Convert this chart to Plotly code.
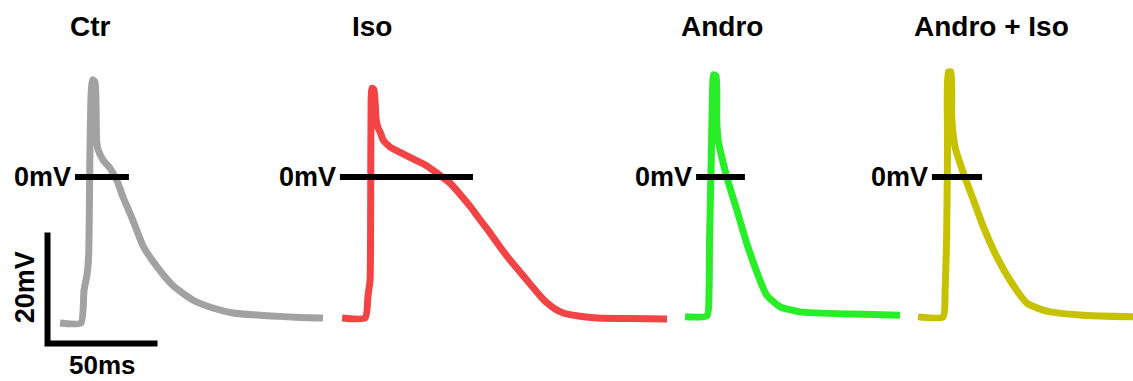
import plotly.graph_objects as go

# Action potential traces: time (ms, from sweep start) and membrane potential (mV)
conditions = ["Ctr", "Iso", "Andro", "Andro + Iso"]

ctr_t = [0, 9.5, 10.9, 12.3, 13.0, 13.6, 14.1, 14.8, 15.9, 16.6, 17.3, 19.5, 22.7, 25.9,
         28.6, 33.2, 37.7, 44.1, 51.4, 60.5, 69.5, 78.6, 94.1, 109.1, 119.5]
ctr_v = [-26.3, -26.3, -20.4, -17.5, -14.1, 4.9, 14.8, 17.5, 17.1, 6.7, 4.9, 3.1, 1.6, -0.7,
         -3.6, -7.9, -12.4, -16.2, -19.6, -22.2, -23.6, -24.5, -25.0, -25.3, -25.4]

iso_t = [0, 10.5, 11.8, 12.7, 13.0, 13.2, 13.6, 14.5, 15.5, 16.4, 17.3, 18.6, 21.8, 25.0,
         29.5, 34.1, 37.7, 41.4, 45.5, 49.1, 53.6, 58.2, 62.7, 67.3, 71.8, 76.4, 80.9, 85.5,
         90.0, 93.2, 96.8, 100.5, 108.2, 115.9, 130.9, 147.7]
iso_v = [-25.4, -25.4, -21.3, -18.6, -4.1, 13.9, 16.0, 15.7, 10.3, 8.8, 8.1, 6.7, 5.4, 4.7,
         3.8, 2.9, 2.2, 1.2, 0.0, -1.1, -3.1, -5.3, -7.7, -10.1, -12.6, -15.0, -17.1, -19.3,
         -21.4, -22.7, -23.8, -24.5, -25.1, -25.4, -25.5, -25.6]

andro_t = [0, 10.0, 10.9, 11.1, 11.8, 12.5, 13.0, 14.1, 14.4, 15.0, 15.9, 19.1, 23.5, 28.0,
           32.6, 37.1, 43.2, 52.3, 76.4, 97.7]
andro_v = [-25.2, -25.0, -20.4, -11.9, 1.3, 15.7, 18.4, 18.2, 10.3, 6.7, 4.9, -0.2, -5.9, -11.9,
           -17.1, -21.3, -23.4, -24.3, -24.7, -24.9]

andro_iso_t = [0, 11.4, 12.3, 13.0, 13.4, 13.8, 15.0, 15.3, 16.8, 20.6, 25.1, 29.7, 35.8,
               41.8, 49.4, 55.5, 60.0, 75.0, 97.7]
andro_iso_v = [-25.2, -25.2, -20.4, -10.8, 4.9, 18.9, 18.9, 10.8, 5.4, 0.7, -4.1, -9.0, -14.4,
               -18.6, -22.7, -23.8, -24.3, -24.9, -25.2]

# Scale bar sizes
scale_mv = 20
scale_ms = 50

# ---- layout (positions on the shared time axis, ms) ----
px_per_ms = 110 / scale_ms
px_per_mv = 111 / scale_mv
W, H = 1133, 381
zero_px = 177  # pixel row of 0 mV

sweep_start = [27.3, 155.5, 311.4, 417.3]
zero_line = [(34.1, 58.6), (154.5, 215.0), (316.4, 338.6), (423.6, 446.4)]
title_x = [41.1, 169.1, 328.2, 450.7]
colors = ["#a2a2a2", "#f24444", "#27ee27", "#c6c200"]

traces = [(ctr_t, ctr_v), (iso_t, iso_v), (andro_t, andro_v), (andro_iso_t, andro_iso_v)]

fig = go.Figure()
for (t, v), x0, c in zip(traces, sweep_start, colors):
    fig.add_trace(go.Scatter(
        x=[ti + x0 for ti in t], y=v, mode="lines",
        line=dict(color=c, width=7, shape="spline", smoothing=0.5),
        hoverinfo="skip", showlegend=False,
    ))

label_font = dict(family="Liberation Sans, Arial, sans-serif", size=27, color="black")

for (a, b) in zero_line:
    fig.add_shape(type="line", xref="x", yref="y", x0=a, x1=b, y0=0, y1=0,
                  line=dict(color="black", width=6))
    fig.add_annotation(x=a, y=0, xref="x", yref="y", text="<b>0mV</b>", showarrow=False,
                       xanchor="right", yanchor="middle", xshift=-2, font=label_font)

for name, x in zip(conditions, title_x):
    fig.add_annotation(x=x, y=1 - 26 / H, xref="x", yref="paper", text=f"<b>{name}</b>",
                       showarrow=False, xanchor="center", yanchor="middle",
                       font=dict(family="Liberation Sans, Arial, sans-serif", size=28,
                                 color="black"))

# L-shaped scale bar
corner_t, corner_v = 21.6, -30
fig.add_trace(go.Scatter(
    x=[corner_t, corner_t, corner_t + scale_ms],
    y=[corner_v + scale_mv, corner_v, corner_v],
    mode="lines", line=dict(color="black", width=6), hoverinfo="skip", showlegend=False,
))
fig.add_annotation(x=corner_t - 1, y=corner_v + scale_mv / 2 + 0.2, xref="x", yref="y",
                   text=f"<b>{scale_mv}mV</b>", textangle=-90, showarrow=False,
                   xanchor="right", yanchor="middle", xshift=-3, font=label_font)
fig.add_annotation(x=corner_t + scale_ms / 2, y=-(365 - zero_px) / px_per_mv,
                   xref="x", yref="y", text=f"<b>{scale_ms}ms</b>", showarrow=False,
                   xanchor="center", yanchor="middle",
                   font=dict(family="Liberation Sans, Arial, sans-serif", size=26,
                             color="black"))

fig.update_layout(
    width=W, height=H, margin=dict(l=0, r=0, t=0, b=0),
    paper_bgcolor="white", plot_bgcolor="white",
    xaxis=dict(visible=False, range=[0, W / px_per_ms], fixedrange=True),
    yaxis=dict(visible=False, range=[-(H - zero_px) / px_per_mv, zero_px / px_per_mv],
               fixedrange=True),
)

fig.write_html("out.html")
